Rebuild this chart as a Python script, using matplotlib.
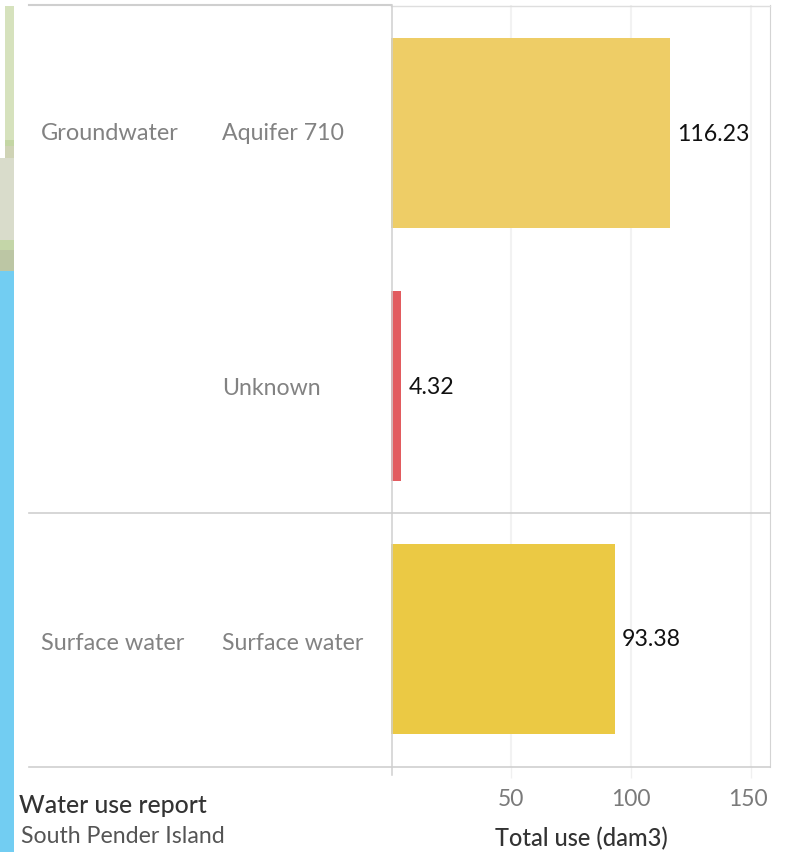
import matplotlib
matplotlib.use("Agg")
import matplotlib.pyplot as plt
from matplotlib.patches import Rectangle
from matplotlib.transforms import ScaledTranslation

W, H = 788, 853

sources = ["Groundwater", "", "Surface water"]
names = ["Aquifer 710", "Unknown", "Surface water"]
values = [116.23, 4.32, 93.38]
bar_colors = ["#eecd66", "#e25b5f", "#ebc944"]
xticks = [50, 100, 150]

plt.rcParams["font.family"] = ["Lato", "DejaVu Sans"]

fig = plt.figure(figsize=(W / 100, H / 100), dpi=100)


def fx(px):
    return px / W


def fy(py):
    return 1 - (py + 1) / H


def strip(x0, y0, x1, y1, color):
    # rectangulo en pixeles de la imagen
    fig.patches.append(Rectangle((fx(x0), fy(y1)), (x1 - x0) / W, (y1 - y0) / H,
                                 transform=fig.transFigure, color=color, lw=0))


# franja del mapa a la izquierda
strip(5, 6, 14, 140, "#d6e2bd")
strip(5, 140, 14, 146, "#c4d6a4")
strip(5, 146, 14, 158, "#cfd3b5")
strip(0, 158, 14, 240, "#d9dccb")
strip(0, 240, 14, 250, "#c4d6a8")
strip(0, 250, 14, 271, "#bcc6a4")
strip(0, 271, 14, H, "#72cdf2")

ax = fig.add_axes([fx(391), fy(767), (770 - 391) / W, (767 - 5) / H])
ypos = list(range(len(values)))
ax.barh(ypos, values, height=0.751, color=bar_colors, zorder=3)
ax.set_xlim(0, 157.9)
ax.set_ylim(2.506, -0.506)

for s in ["top", "bottom", "left", "right"]:
    ax.spines[s].set_visible(False)
ax.spines["right"].set_visible(True)
ax.spines["right"].set_color("#d4d4d4")

ax.set_xticks(xticks)
ax.set_xticklabels([str(t) for t in xticks], fontsize=16.5, color="#7a7a7a")
ax.set_yticks([])
ax.tick_params(axis="x", length=8, width=1, color="#f0f0f0", pad=7)
ax.grid(axis="x", color="#f2f2f2", lw=1.5, zorder=0)
ax.set_axisbelow(True)

# la etiqueta 150 queda corrida hacia la izquierda en el original
last_label = ax.get_xticklabels()[-1]
last_label.set_transform(last_label.get_transform() + ScaledTranslation(-3 / 100, 0, fig.dpi_scale_trans))

for y, v in zip(ypos, values):
    ax.annotate(f"{v:.2f}", (v, y), xytext=(7, 0), textcoords="offset pixels",
                va="center", ha="left", fontsize=16.7, color="#111111", zorder=4)

# etiquetas de las columnas
for y, src, name in zip(ypos, sources, names):
    py = 133 + 254.5 * y
    if src:
        fig.text(fx(41), fy(py), src, fontsize=16.9, color="#828282", va="center")
    fig.text(fx(222), fy(py), name, fontsize=16.7, color="#828282", va="center")


def hline(py, x0, x1, color, lw):
    fig.add_artist(plt.Line2D([fx(x0), fx(x1)], [fy(py), fy(py)], color=color, lw=lw))


def vline(px, y0, y1, color, lw):
    fig.add_artist(plt.Line2D([fx(px), fx(px)], [fy(y0), fy(y1)], color=color, lw=lw))


hline(5, 29, 391, "#cfcfcf", 1.5)
hline(5.5, 391, 770, "#dedede", 1.0)
hline(513, 29, 770, "#cfcfcf", 1.2)
hline(767, 29, 770, "#cfcfcf", 1.2)
vline(391.5, 5, 775, "#cfcfcf", 1.1)

fig.text(fx(19), fy(805), "Water use report", fontsize=17.8, color="#333333",
         va="center", fontweight="medium")
fig.text(fx(21), fy(836), "South Pender Island", fontsize=16.7, color="#555555", va="center")
fig.text(fx(495), fy(838), "Total use (dam3)", fontsize=17, color="#333333",
         va="center", fontweight="medium")

fig.savefig("out.png", dpi=100)
